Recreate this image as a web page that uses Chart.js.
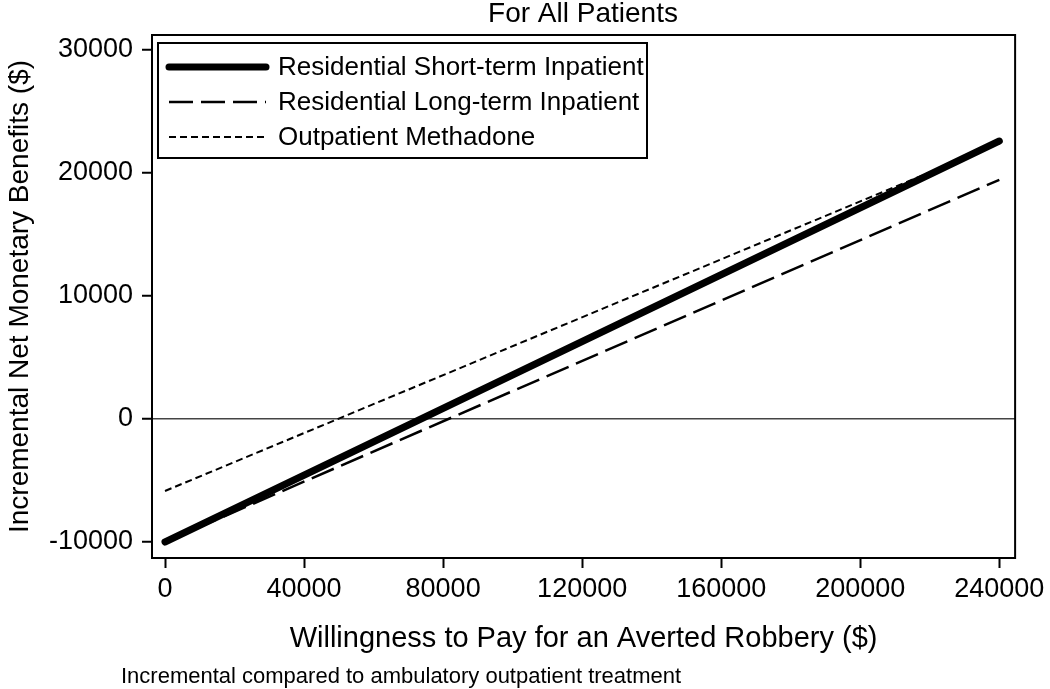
<!DOCTYPE html>
<html>
<head>
<meta charset="utf-8">
<script src="https://cdn.jsdelivr.net/npm/chart.js@4"></script>
<style>
  html, body { margin: 0; padding: 0; background: #fff; }
  #wrap { width: 1050px; height: 689px; }
</style>
</head>
<body>
<div id="wrap"><canvas id="myChart" width="1050" height="689"></canvas></div>
<script>
(function () {
  "use strict";

  // willingness to pay ($) at both ends of each line
  var wtp = [0, 240000];
  var shortTerm = [-10000, 22600];
  var longTerm = [-10000, 19450];
  var methadone = [-5850, 22400];

  var labels = [
    "Residential Short-term Inpatient",
    "Residential Long-term Inpatient",
    "Outpatient Methadone"
  ];
  var xTicks = [0, 40000, 80000, 120000, 160000, 200000, 240000];
  var yTicks = [-10000, 0, 10000, 20000, 30000];

  var font = "'Liberation Sans', Arial, Helvetica, sans-serif";

  function pts(ys) {
    return wtp.map(function (x, i) { return { x: x, y: ys[i] }; });
  }

  // frame, title, footnote and the boxed legend
  var extras = {
    id: "extras",
    afterDraw: function (chart) {
      var c = chart.ctx;
      var a = chart.chartArea;
      c.save();
      c.strokeStyle = "#000";
      c.lineWidth = 2;
      c.strokeRect(a.left, a.top, a.right - a.left, a.bottom - a.top);

      c.fillStyle = "#000";
      c.textBaseline = "middle";
      c.textAlign = "center";
      c.font = "28px " + font;
      c.fillText("For All Patients", 583, 14);

      c.textAlign = "left";
      c.font = "22px " + font;
      c.fillText("Incremental compared to ambulatory outpatient treatment", 121, 677);

      // legend
      var lx = 158, ly = 43, lw = 489, lh = 115;
      c.fillStyle = "#fff";
      c.fillRect(lx, ly, lw, lh);
      c.lineWidth = 2;
      c.strokeRect(lx, ly, lw, lh);
      chart.data.datasets.forEach(function (ds, i) {
        var y = ly + 24 + i * 35;
        c.beginPath();
        c.setLineDash(ds.borderDash || []);
        c.lineWidth = ds.borderWidth;
        c.lineCap = ds.borderCapStyle || "butt";
        c.strokeStyle = ds.borderColor;
        c.moveTo(lx + 11, y);
        c.lineTo(lx + 108, y);
        c.stroke();
        c.setLineDash([]);
        c.fillStyle = "#000";
        c.font = "26px " + font;
        c.fillText(ds.label, lx + 120, y + 1);
      });
      c.restore();
    }
  };

  var ctx = document.getElementById("myChart");
  var myChart = new Chart(ctx, {
    type: "line",
    data: {
      datasets: [
        {
          label: labels[0],
          data: pts(shortTerm),
          borderColor: "#000",
          borderWidth: 7,
          borderCapStyle: "round",
          pointRadius: 0
        },
        {
          label: labels[1],
          data: pts(longTerm),
          borderColor: "#000",
          borderWidth: 2.5,
          borderDash: [24, 8],
          pointRadius: 0
        },
        {
          label: labels[2],
          data: pts(methadone),
          borderColor: "#000",
          borderWidth: 2,
          borderDash: [7, 4],
          pointRadius: 0
        }
      ]
    },
    options: {
      responsive: false,
      animation: false,
      layout: { padding: { top: 35, right: 34, bottom: 27, left: 0 } },
      plugins: {
        legend: { display: false },
        tooltip: { enabled: false }
      },
      scales: {
        x: {
          type: "linear",
          min: -3740,
          max: 244540,
          afterBuildTicks: function (s) {
            s.ticks = xTicks.map(function (v) { return { value: v }; });
          },
          afterFit: function (s) { s.height = 104; },
          border: { display: true, color: "#000", width: 2 },
          grid: {
            drawOnChartArea: false,
            drawTicks: true,
            tickLength: 10,
            tickColor: "#000",
            tickWidth: 2
          },
          ticks: {
            color: "#000",
            font: { family: font, size: 27 },
            padding: 5,
            maxRotation: 0,
            callback: function (v) { return String(v); }
          },
          title: {
            display: true,
            text: "Willingness to Pay for an Averted Robbery ($)",
            color: "#000",
            font: { family: font, size: 29 },
            padding: { top: 0, bottom: 6 }
          }
        },
        y: {
          type: "linear",
          min: -11300,
          max: 31220,
          afterBuildTicks: function (s) {
            s.ticks = yTicks.map(function (v) { return { value: v }; });
          },
          afterFit: function (s) { s.width = 152; },
          border: { display: true, color: "#000", width: 2 },
          grid: {
            drawOnChartArea: true,
            drawTicks: true,
            tickLength: 10,
            tickWidth: 2,
            tickColor: "#000",
            color: function (c) {
              return c.tick && c.tick.value === 0 ? "#444" : "rgba(0,0,0,0)";
            },
            lineWidth: 1.5
          },
          ticks: {
            color: "#000",
            font: { family: font, size: 27 },
            padding: 9,
            callback: function (v) { return String(v); }
          },
          title: {
            display: true,
            text: "Incremental Net Monetary Benefits ($)",
            color: "#000",
            font: { family: font, size: 28 },
            padding: { top: 3, bottom: 0 }
          }
        }
      }
    },
    plugins: [extras]
  });
})();
</script>
</body>
</html>
